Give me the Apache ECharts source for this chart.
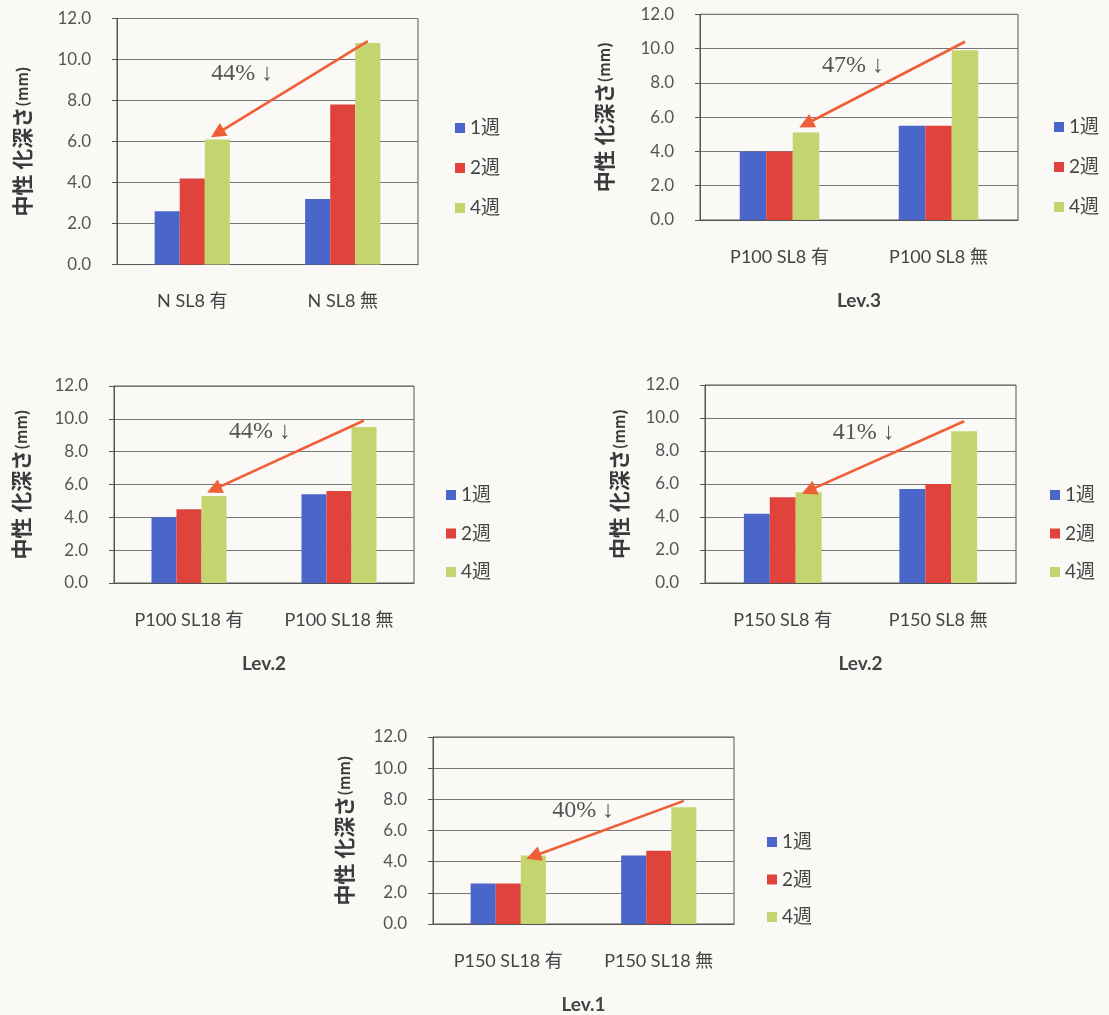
<!DOCTYPE html>
<html>
<head>
<meta charset="utf-8">
<title>中性化深さ</title>
<script src="https://cdn.jsdelivr.net/npm/echarts@6/dist/echarts.min.js"></script>
<style>
  html, body { margin: 0; padding: 0; background: #faf9f6; }
  #chart { width: 1109px; height: 1015px; }
</style>
</head>
<body>
<div id="chart"></div>
<script>
// ---- data ----
const weeks = ['1週', '2週', '4週'];
const categories = [
  ['N SL8 有', 'N SL8 無'],
  ['P100 SL8 有', 'P100 SL8 無'],
  ['P100 SL18 有', 'P100 SL18 無'],
  ['P150 SL8 有', 'P150 SL8 無'],
  ['P150 SL18 有', 'P150 SL18 無']
];
const week1 = [[2.6, 3.2], [4.0, 5.5], [4.0, 5.4], [4.2, 5.7], [2.6, 4.4]];
const week2 = [[4.2, 7.8], [4.0, 5.5], [4.5, 5.6], [5.2, 6.0], [2.6, 4.7]];
const week4 = [[6.1, 10.8], [5.1, 9.9], [5.3, 9.5], [5.5, 9.2], [4.4, 7.5]];
const levels = ['', 'Lev.3', 'Lev.2', 'Lev.2', 'Lev.1'];
const reductions = ['44%', '47%', '44%', '41%', '40%'];
// arrow from the 無 4週 bar to the 有 4週 bar (axis units)
const arrowFrom = [10.9, 10.4, 9.9, 9.8, 7.9];
const arrowTo = [6.4, 5.6, 5.7, 5.6, 4.35];
const noteAt = [9.3, 9.0, 9.2, 9.1, 7.25];
const yMin = 0, yMax = 12, yStep = 2;

// ---- layout of the five panels ----
const panels = [
  { left: 117, top: 18.5, width: 301, height: 246, legendLeft: 455, legendTop: 118, rowGap: 20, yNameGap: 84, noteDx: 25 },
  { left: 700, top: 14.3, width: 318, height: 205.7, legendLeft: 1054, legendTop: 117, rowGap: 20, yNameGap: 85, noteDx: 47 },
  { left: 114, top: 386, width: 300, height: 197, legendLeft: 446, legendTop: 485, rowGap: 18.5, yNameGap: 82, noteDx: 46 },
  { left: 705, top: 385, width: 311, height: 198, legendLeft: 1050, legendTop: 485, rowGap: 18.5, yNameGap: 75, noteDx: 55 },
  { left: 433, top: 737, width: 301, height: 192, legendLeft: 767, legendTop: 832, rowGap: 17.5, yNameGap: 78, noteDx: 50 }
];

const colors = ['#4a66c8', '#e0433c', '#c4d46e'];
const LATIN = "Lato, 'Noto Sans CJK JP', sans-serif";
const CJK = "'Noto Sans CJK JP', sans-serif";

const grid = [], xAxis = [], yAxis = [], series = [], legend = [];

panels.forEach(function (p, i) {
  grid.push({
    left: p.left, top: p.top, width: p.width, height: p.height,
    show: true, borderColor: '#555', borderWidth: 1, backgroundColor: 'transparent'
  });
  xAxis.push({
    type: 'category', gridIndex: i, data: categories[i],
    name: levels[i], nameLocation: 'middle', nameGap: 71,
    nameTextStyle: { fontFamily: LATIN, fontSize: 19, fontWeight: 'bold', color: '#444' },
    axisLine: { show: true, lineStyle: { color: '#555', width: 1 } },
    axisTick: { show: false },
    axisLabel: { margin: 28, fontFamily: LATIN, fontSize: 18, color: '#444' }
  });
  yAxis.push({
    type: 'value', gridIndex: i, min: yMin, max: yMax, interval: yStep,
    name: '{a|中性 化深さ}{b|(mm)}', nameLocation: 'middle', nameGap: p.yNameGap,
    nameTextStyle: {
      rich: {
        a: { fontFamily: CJK, fontSize: 21, fontWeight: 'bold', color: '#3a3a3a' },
        b: { fontFamily: CJK, fontSize: 15, fontWeight: 'bold', color: '#3a3a3a' }
      }
    },
    axisLine: { show: true, lineStyle: { color: '#555', width: 1 } },
    axisTick: { show: true, length: 5, lineStyle: { color: '#555' } },
    axisLabel: {
      margin: 26, fontFamily: LATIN, fontSize: 17, color: '#555',
      formatter: function (v) { return v.toFixed(1); }
    },
    splitLine: { show: true, lineStyle: { color: '#777', width: 1 } }
  });

  const values = [week1[i], week2[i], week4[i]];
  weeks.forEach(function (w, k) {
    const s = {
      type: 'bar', name: w, xAxisIndex: i, yAxisIndex: i,
      data: values[k], barGap: '0%', barCategoryGap: '50%',
      itemStyle: { color: colors[k] },
      animation: false
    };
    if (k === 2) {
      s.markLine = {
        silent: true, animation: false,
        symbol: ['none', 'triangle'], symbolSize: 15,
        lineStyle: { color: '#ef5e36', width: 2.6, type: 'solid' },
        label: { show: false },
        data: [[{ coord: [1, arrowFrom[i]] }, { coord: [0, arrowTo[i]] }]]
      };
      s.markPoint = {
        silent: true, animation: false,
        symbol: 'circle', symbolSize: 1,
        itemStyle: { color: 'rgba(0,0,0,0)' },
        label: {
          show: true, position: 'inside', offset: [p.noteDx, 0],
          formatter: reductions[i] + ' ↓',
          fontFamily: "'Liberation Serif', 'DejaVu Serif', serif",
          fontSize: 24, color: '#555'
        },
        data: [{ coord: [0, noteAt[i]] }]
      };
    }
    series.push(s);
  });

  legend.push({
    orient: 'vertical', left: p.legendLeft, top: p.legendTop, padding: 0,
    itemWidth: 10, itemHeight: 10, itemGap: p.rowGap, icon: 'rect',
    data: weeks,
    textStyle: { fontFamily: LATIN, fontSize: 19, lineHeight: 20, color: '#444' }
  });
});

const chart = echarts.init(document.getElementById('chart'), null, { renderer: 'canvas' });
chart.setOption({
  backgroundColor: '#faf9f6',
  animation: false,
  color: colors,
  grid: grid, xAxis: xAxis, yAxis: yAxis, series: series, legend: legend
});
</script>
</body>
</html>
